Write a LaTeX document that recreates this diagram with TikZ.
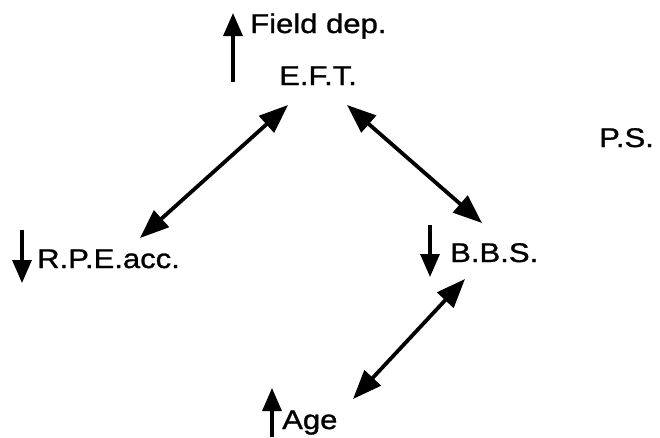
\documentclass[tikz,border=0pt]{standalone}
\usepackage{fontspec}
\setmainfont{Liberation Sans}[FakeStretch=1.15,FakeBold=1.1]
\usetikzlibrary{arrows.meta,calc}
\begin{document}
\begin{tikzpicture}[x=1pt,y=-1pt,
  lbl/.style={inner sep=0pt,anchor=base west,font=\fontsize{27}{30}\selectfont},
  dbl/.style={line width=3.8pt,{Triangle[length=29pt,width=22pt]}-{Triangle[length=29pt,width=22pt]}},
  single/.style={line width=3.4pt,-{Triangle[length=23pt,width=19pt]}}]
\useasboundingbox[fill=white] (0,0) rectangle (660,437);
% labels
\node[lbl] (fd)  at (250,33)  {Field dep.};
\node[lbl] (eft) at (279,85)  {E.F.T.};
\node[lbl] (rpe) at (37,268)  {R.P.E.acc.};
\node[lbl] (bbs) at (450,262) {B.B.S.};
\node[lbl] (age) at (282,429) {Age};
\node[lbl] (ps)  at (599,147) {P.S.};
% arrow end points near the labels
\coordinate (eftL) at (288,105);
\coordinate (eftR) at (347,105);
\coordinate (rpeT) at (140,238);
\coordinate (bbsT) at (482,223);
\coordinate (bbsB) at (465,279);
\coordinate (ageT) at (353,399);
% double headed connectors
\draw[dbl] (eftL) -- (rpeT);
\draw[dbl] (eftR) -- (bbsT);
\draw[dbl] (bbsB) -- (ageT);
% small trend arrows
\draw[single] ($(fd.base west)+(-17,49)$) -- ($(fd.base west)+(-17,-20)$);
\draw[single] ($(rpe.base west)+(-15,-38)$) -- ($(rpe.base west)+(-15,15)$);
\draw[single] ($(bbs.base west)+(-20,-37)$) -- ($(bbs.base west)+(-20,15)$);
\draw[single] ($(age.base west)+(-10,8)$) -- ($(age.base west)+(-10,-41)$);
\end{tikzpicture}
\end{document}
